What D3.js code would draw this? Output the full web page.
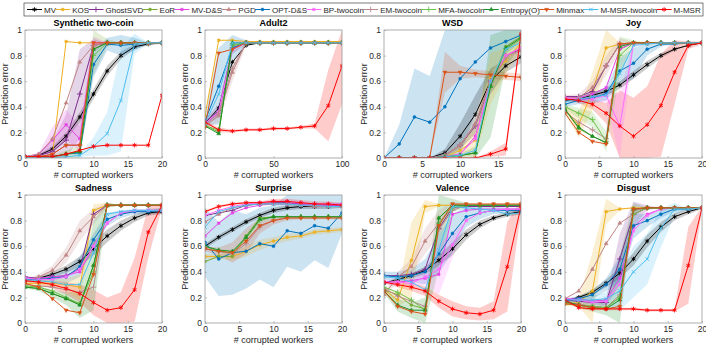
<!DOCTYPE html>
<html>
<head>
<meta charset="utf-8">
<script src="https://cdn.jsdelivr.net/npm/d3@7"></script>
<style>
  body { margin: 0; background: #fff; }
  text { font-family: "Liberation Sans", Arial, Helvetica, sans-serif; }
</style>
</head>
<body>
<div id="chart"></div>
<script>
// ---- series ----
var seriesNames = ["MV", "KOS", "GhostSVD", "EoR", "MV-D&S", "PGD", "OPT-D&S", "BP-twocoin",
                   "EM-twocoin", "MFA-twocoin", "Entropy(O)", "Minmax", "M-MSR-twocoin", "M-MSR"];
var seriesColors = ["#000000", "#EDB120", "#7E2F8E", "#77AC30", "#E645E6", "#C08484", "#0072BD", "#FF6CFF",
                    "#B9898D", "#6CC24A", "#1F8F2A", "#D95319", "#4DBEEE", "#FF0000"];
var seriesMarkers = ["star", "square", "plus", "dot", "square", "tri", "dot", "square",
                     "plus", "plus", "tri", "trid", "x", "star"];

// ---- x values ----
var xEven20 = [0, 2, 4, 6, 8, 10, 12, 14, 16, 18, 20];
var xAdult = [0, 10, 20, 30, 40, 50, 60, 70, 80, 90, 100];
var xWsd = [0, 2, 4, 6, 8, 10, 12, 14, 16, 18];

// ---- values, rows in series order ----
var synthetic = [
  [0.01, 0.02, 0.07, 0.17, 0.32, 0.50, 0.68, 0.80, 0.87, 0.89, 0.90],
  [0.01, 0.01, 0.02, 0.91, 0.90, 0.90, 0.90, 0.90, 0.90, 0.90, 0.90],
  [0.01, 0.02, 0.05, 0.14, 0.50, 0.88, 0.90, 0.90, 0.90, 0.90, 0.90],
  [0.005, 0.005, 0.01, 0.03, 0.05, 0.85, 0.90, 0.90, 0.90, 0.90, 0.90],
  [0.01, 0.03, 0.14, 0.26, 0.15, 0.90, 0.90, 0.90, 0.90, 0.90, 0.90],
  [0.01, 0.03, 0.15, 0.43, 0.75, 0.88, 0.90, 0.90, 0.90, 0.90, 0.90],
  [0.005, 0.005, 0.01, 0.03, 0.04, 0.73, 0.89, 0.88, 0.89, 0.90, 0.90],
  [0.01, 0.01, 0.03, 0.10, 0.10, 0.90, 0.90, 0.90, 0.90, 0.90, 0.90],
  [0.01, 0.01, 0.03, 0.10, 0.10, 0.88, 0.90, 0.90, 0.90, 0.90, 0.90],
  [0.005, 0.005, 0.01, 0.03, 0.05, 0.80, 0.90, 0.90, 0.90, 0.90, 0.90],
  [0.005, 0.005, 0.01, 0.03, 0.05, 0.85, 0.90, 0.90, 0.90, 0.90, 0.90],
  [0.01, 0.01, 0.03, 0.10, 0.10, 0.90, 0.90, 0.90, 0.90, 0.90, 0.90],
  [0.005, 0.005, 0.005, 0.01, 0.02, 0.09, 0.19, 0.45, 0.89, 0.90, 0.90],
  [0.01, 0.01, 0.01, 0.03, 0.06, 0.09, 0.10, 0.10, 0.10, 0.10, 0.49]
];
var adult2 = [
  [0.27, 0.39, 0.75, 0.88, 0.90, 0.90, 0.90, 0.90, 0.90, 0.90, 0.90],
  [0.33, 0.92, 0.92, 0.91, 0.91, 0.91, 0.91, 0.91, 0.91, 0.91, 0.91],
  [0.28, 0.37, 0.86, 0.90, 0.90, 0.90, 0.90, 0.90, 0.90, 0.90, 0.90],
  [0.26, 0.20, 0.88, 0.90, 0.90, 0.90, 0.90, 0.90, 0.90, 0.90, 0.90],
  [0.27, 0.35, 0.85, 0.90, 0.90, 0.90, 0.90, 0.90, 0.90, 0.90, 0.90],
  [0.25, 0.33, 0.67, 0.90, 0.90, 0.90, 0.90, 0.90, 0.90, 0.90, 0.90],
  [0.29, 0.56, 0.86, 0.90, 0.90, 0.90, 0.90, 0.90, 0.90, 0.90, 0.90],
  [0.27, 0.36, 0.85, 0.90, 0.90, 0.90, 0.90, 0.90, 0.90, 0.90, 0.90],
  [0.26, 0.35, 0.70, 0.90, 0.90, 0.90, 0.90, 0.90, 0.90, 0.90, 0.90],
  [0.25, 0.22, 0.88, 0.90, 0.90, 0.90, 0.90, 0.90, 0.90, 0.90, 0.90],
  [0.25, 0.19, 0.90, 0.90, 0.90, 0.90, 0.90, 0.90, 0.90, 0.90, 0.90],
  [0.24, 0.82, 0.85, 0.90, 0.90, 0.90, 0.90, 0.90, 0.90, 0.90, 0.90],
  [0.27, 0.50, 0.90, 0.90, 0.90, 0.90, 0.90, 0.90, 0.90, 0.90, 0.90],
  [0.28, 0.22, 0.21, 0.22, 0.22, 0.23, 0.23, 0.24, 0.25, 0.41, 0.72]
];
var wsd = [
  [0, 0, 0, 0, 0.04, 0.17, 0.34, 0.60, 0.72, 0.79],
  [0, 0, 0, 0, 0.01, 0.06, 0.14, 0.62, 0.76, 0.90],
  [0, 0, 0, 0, 0.02, 0.10, 0.25, 0.60, 0.80, 0.85],
  [0, 0, 0, 0, 0.01, 0.02, 0.04, 0.57, 0.87, 0.95],
  [0, 0, 0, 0, 0.01, 0.03, 0.17, 0.58, 0.80, 0.86],
  [0, 0, 0, 0, 0.02, 0.10, 0.27, 0.60, 0.80, 0.84],
  [0, 0.11, 0.32, 0.28, 0.40, 0.62, 0.75, 0.86, 0.91, 0.96],
  [0, 0, 0, 0, 0.01, 0.03, 0.15, 0.60, 0.80, 0.86],
  [0, 0, 0, 0, 0.02, 0.10, 0.26, 0.60, 0.78, 0.84],
  [0, 0, 0, 0, 0.01, 0.02, 0.04, 0.56, 0.85, 0.93],
  [0, 0, 0, 0, 0.01, 0.02, 0.04, 0.56, 0.86, 0.94],
  [0, 0, 0, 0, 0.67, 0.67, 0.66, 0.65, 0.64, 0.63],
  [0, 0, 0, 0, 0.01, 0.02, 0.06, 0.60, 0.85, 0.90],
  [0, 0, 0, 0, 0, 0, 0, 0.03, 0.07, 0.97]
];
var joy = [
  [0.45, 0.46, 0.49, 0.52, 0.57, 0.65, 0.73, 0.80, 0.85, 0.88, 0.90],
  [0.38, 0.26, 0.52, 0.86, 0.89, 0.90, 0.90, 0.90, 0.90, 0.90, 0.90],
  [0.48, 0.48, 0.52, 0.72, 0.89, 0.90, 0.90, 0.90, 0.90, 0.90, 0.90],
  [0.38, 0.23, 0.17, 0.12, 0.85, 0.90, 0.90, 0.90, 0.90, 0.90, 0.90],
  [0.47, 0.47, 0.50, 0.55, 0.85, 0.90, 0.90, 0.90, 0.90, 0.90, 0.90],
  [0.47, 0.47, 0.55, 0.72, 0.89, 0.90, 0.90, 0.90, 0.90, 0.90, 0.90],
  [0.42, 0.45, 0.47, 0.50, 0.68, 0.74, 0.85, 0.89, 0.89, 0.90, 0.90],
  [0.47, 0.46, 0.46, 0.49, 0.25, 0.89, 0.90, 0.90, 0.90, 0.90, 0.90],
  [0.36, 0.28, 0.22, 0.15, 0.88, 0.90, 0.90, 0.90, 0.90, 0.90, 0.90],
  [0.40, 0.35, 0.30, 0.13, 0.80, 0.90, 0.90, 0.90, 0.90, 0.90, 0.90],
  [0.38, 0.24, 0.17, 0.12, 0.87, 0.90, 0.90, 0.90, 0.90, 0.90, 0.90],
  [0.35, 0.20, 0.13, 0.11, 0.89, 0.90, 0.90, 0.90, 0.90, 0.90, 0.90],
  [0.44, 0.46, 0.48, 0.49, 0.66, 0.88, 0.89, 0.90, 0.90, 0.90, 0.90],
  [0.46, 0.45, 0.42, 0.35, 0.25, 0.17, 0.26, 0.41, 0.67, 0.88, 0.90]
];
var sadness = [
  [0.34, 0.35, 0.38, 0.42, 0.48, 0.58, 0.68, 0.76, 0.82, 0.86, 0.87],
  [0.31, 0.31, 0.31, 0.30, 0.28, 0.88, 0.92, 0.92, 0.92, 0.92, 0.92],
  [0.36, 0.35, 0.36, 0.37, 0.42, 0.85, 0.92, 0.92, 0.92, 0.92, 0.92],
  [0.28, 0.27, 0.23, 0.19, 0.15, 0.45, 0.92, 0.92, 0.92, 0.92, 0.92],
  [0.35, 0.35, 0.36, 0.37, 0.40, 0.60, 0.78, 0.86, 0.87, 0.88, 0.88],
  [0.33, 0.36, 0.41, 0.53, 0.72, 0.83, 0.92, 0.92, 0.92, 0.92, 0.92],
  [0.34, 0.34, 0.35, 0.36, 0.44, 0.65, 0.81, 0.85, 0.87, 0.87, 0.88],
  [0.35, 0.34, 0.34, 0.36, 0.42, 0.60, 0.78, 0.86, 0.88, 0.88, 0.88],
  [0.30, 0.29, 0.28, 0.26, 0.24, 0.28, 0.92, 0.92, 0.92, 0.92, 0.92],
  [0.29, 0.28, 0.25, 0.20, 0.15, 0.40, 0.92, 0.92, 0.92, 0.92, 0.92],
  [0.28, 0.27, 0.23, 0.19, 0.14, 0.45, 0.92, 0.92, 0.92, 0.92, 0.92],
  [0.31, 0.28, 0.19, 0.10, 0.08, 0.38, 0.92, 0.92, 0.92, 0.92, 0.92],
  [0.34, 0.33, 0.32, 0.30, 0.30, 0.55, 0.85, 0.87, 0.88, 0.88, 0.88],
  [0.33, 0.32, 0.30, 0.27, 0.23, 0.16, 0.10, 0.12, 0.26, 0.71, 0.92]
];
var surprise = [
  [0.60, 0.67, 0.73, 0.79, 0.84, 0.88, 0.90, 0.91, 0.91, 0.91, 0.92],
  [0.52, 0.52, 0.52, 0.56, 0.61, 0.64, 0.67, 0.68, 0.71, 0.72, 0.73],
  [0.84, 0.86, 0.88, 0.92, 0.93, 0.94, 0.94, 0.93, 0.93, 0.92, 0.92],
  [0.48, 0.52, 0.52, 0.68, 0.82, 0.83, 0.83, 0.83, 0.83, 0.83, 0.83],
  [0.68, 0.78, 0.86, 0.90, 0.92, 0.93, 0.93, 0.93, 0.92, 0.92, 0.92],
  [0.79, 0.85, 0.90, 0.92, 0.93, 0.93, 0.93, 0.92, 0.91, 0.91, 0.91],
  [0.63, 0.50, 0.55, 0.56, 0.62, 0.60, 0.72, 0.70, 0.76, 0.74, 0.86],
  [0.84, 0.88, 0.91, 0.93, 0.94, 0.95, 0.95, 0.94, 0.93, 0.93, 0.93],
  [0.58, 0.56, 0.54, 0.62, 0.75, 0.80, 0.83, 0.83, 0.83, 0.83, 0.83],
  [0.60, 0.56, 0.55, 0.66, 0.80, 0.83, 0.83, 0.83, 0.83, 0.83, 0.83],
  [0.60, 0.57, 0.56, 0.67, 0.81, 0.83, 0.83, 0.83, 0.83, 0.83, 0.83],
  [0.58, 0.56, 0.55, 0.64, 0.76, 0.80, 0.82, 0.82, 0.82, 0.82, 0.82],
  [0.75, 0.87, 0.90, 0.92, 0.93, 0.93, 0.93, 0.92, 0.92, 0.91, 0.91],
  [0.87, 0.91, 0.93, 0.94, 0.94, 0.95, 0.95, 0.94, 0.93, 0.93, 0.92]
];
var valence = [
  [0.31, 0.34, 0.37, 0.41, 0.49, 0.58, 0.69, 0.77, 0.82, 0.85, 0.87],
  [0.26, 0.18, 0.49, 0.91, 0.92, 0.92, 0.92, 0.92, 0.92, 0.92, 0.92],
  [0.37, 0.37, 0.38, 0.42, 0.74, 0.90, 0.91, 0.91, 0.91, 0.91, 0.91],
  [0.26, 0.22, 0.14, 0.11, 0.82, 0.92, 0.92, 0.92, 0.92, 0.92, 0.92],
  [0.32, 0.32, 0.33, 0.35, 0.38, 0.85, 0.88, 0.89, 0.89, 0.89, 0.89],
  [0.22, 0.36, 0.44, 0.64, 0.78, 0.92, 0.92, 0.92, 0.92, 0.92, 0.92],
  [0.37, 0.36, 0.37, 0.40, 0.54, 0.70, 0.83, 0.86, 0.88, 0.88, 0.88],
  [0.32, 0.32, 0.31, 0.36, 0.42, 0.61, 0.80, 0.86, 0.88, 0.89, 0.89],
  [0.27, 0.21, 0.17, 0.13, 0.73, 0.88, 0.92, 0.92, 0.92, 0.92, 0.92],
  [0.28, 0.24, 0.18, 0.10, 0.78, 0.90, 0.92, 0.92, 0.92, 0.92, 0.92],
  [0.25, 0.14, 0.10, 0.10, 0.82, 0.92, 0.92, 0.92, 0.92, 0.92, 0.92],
  [0.25, 0.13, 0.09, 0.07, 0.76, 0.93, 0.93, 0.93, 0.93, 0.93, 0.93],
  [0.36, 0.35, 0.32, 0.26, 0.57, 0.91, 0.90, 0.89, 0.88, 0.85, 0.86],
  [0.32, 0.30, 0.28, 0.25, 0.17, 0.11, 0.08, 0.07, 0.10, 0.44, 0.91]
];
var disgust = [
  [0.17, 0.20, 0.24, 0.31, 0.39, 0.50, 0.64, 0.75, 0.83, 0.87, 0.90],
  [0.15, 0.16, 0.25, 0.87, 0.89, 0.90, 0.90, 0.90, 0.90, 0.90, 0.90],
  [0.18, 0.17, 0.16, 0.16, 0.50, 0.85, 0.90, 0.90, 0.90, 0.90, 0.90],
  [0.15, 0.14, 0.13, 0.12, 0.20, 0.88, 0.90, 0.90, 0.90, 0.90, 0.90],
  [0.19, 0.19, 0.17, 0.18, 0.35, 0.75, 0.85, 0.89, 0.90, 0.90, 0.90],
  [0.19, 0.25, 0.42, 0.62, 0.78, 0.85, 0.90, 0.90, 0.90, 0.90, 0.90],
  [0.18, 0.19, 0.22, 0.30, 0.42, 0.76, 0.80, 0.85, 0.89, 0.89, 0.90],
  [0.19, 0.18, 0.16, 0.17, 0.30, 0.72, 0.84, 0.89, 0.90, 0.90, 0.90],
  [0.16, 0.15, 0.13, 0.12, 0.22, 0.88, 0.90, 0.90, 0.90, 0.90, 0.90],
  [0.16, 0.14, 0.13, 0.12, 0.20, 0.85, 0.90, 0.90, 0.90, 0.90, 0.90],
  [0.17, 0.14, 0.12, 0.11, 0.18, 0.89, 0.90, 0.90, 0.90, 0.90, 0.90],
  [0.15, 0.14, 0.12, 0.11, 0.13, 0.89, 0.90, 0.90, 0.90, 0.90, 0.90],
  [0.18, 0.18, 0.18, 0.19, 0.25, 0.40, 0.50, 0.74, 0.89, 0.89, 0.90],
  [0.18, 0.12, 0.11, 0.11, 0.11, 0.11, 0.10, 0.10, 0.10, 0.45, 0.90]
];

// ---- spread (std) of the shaded bands: [series index, values] ----
var syntheticSd = [
  [0, [0, 0.01, 0.02, 0.03, 0.04, 0.04, 0.04, 0.03, 0.02, 0.01, 0.01]],
  [2, [0, 0.01, 0.08, 0.20, 0.35, 0.05, 0, 0, 0, 0, 0]],
  [4, [0, 0.01, 0.10, 0.12, 0.10, 0.05, 0, 0, 0, 0, 0]],
  [3, [0, 0, 0.01, 0.03, 0.05, 0.20, 0.03, 0, 0, 0, 0]],
  [12, [0, 0, 0, 0, 0.01, 0.07, 0.17, 0.40, 0.08, 0, 0]],
  [6, [0, 0, 0, 0, 0.02, 0.10, 0.05, 0.08, 0.05, 0, 0]]
];
var adult2Sd = [
  [6, [0.03, 0.30, 0.10, 0.02, 0, 0, 0, 0, 0, 0, 0]],
  [5, [0.02, 0.05, 0.07, 0.02, 0, 0, 0, 0, 0, 0, 0]],
  [2, [0.02, 0.05, 0.05, 0.01, 0, 0, 0, 0, 0, 0, 0]],
  [13, [0.01, 0.02, 0.01, 0.01, 0.01, 0.01, 0.01, 0.01, 0.02, 0.28, 0.30]]
];
var wsdSd = [
  [6, [0, 0.15, 0.38, 0.36, 0.60, 0.60, 0.40, 0.20, 0.10, 0.05]],
  [11, [0, 0, 0, 0, 0.16, 0.05, 0.03, 0.03, 0.03, 0.03]],
  [10, [0, 0, 0, 0, 0.01, 0.02, 0.05, 0.40, 0.15, 0.06]],
  [0, [0, 0, 0, 0, 0.03, 0.10, 0.15, 0.10, 0.05, 0.05]],
  [1, [0, 0, 0, 0, 0.02, 0.05, 0.12, 0.20, 0.10, 0.05]],
  [13, [0, 0, 0, 0, 0, 0, 0, 0.02, 0.05, 0.03]]
];
var joySd = [
  [13, [0.01, 0.02, 0.04, 0.08, 0.28, 0.30, 0.30, 0.40, 0.25, 0.03, 0.01]],
  [1, [0.03, 0.10, 0.15, 0.15, 0.01, 0, 0, 0, 0, 0, 0]],
  [7, [0.02, 0.02, 0.03, 0.05, 0.25, 0.02, 0, 0, 0, 0, 0]],
  [6, [0.02, 0.03, 0.04, 0.05, 0.10, 0.12, 0.05, 0.02, 0, 0, 0]],
  [0, [0.01, 0.01, 0.02, 0.03, 0.03, 0.03, 0.03, 0.02, 0.01, 0, 0]],
  [9, [0.02, 0.04, 0.06, 0.08, 0.15, 0.02, 0, 0, 0, 0, 0]],
  [5, [0.02, 0.03, 0.05, 0.08, 0.05, 0, 0, 0, 0, 0, 0]]
];
var sadnessSd = [
  [13, [0.01, 0.02, 0.03, 0.05, 0.07, 0.10, 0.10, 0.12, 0.25, 0.20, 0.02]],
  [10, [0.01, 0.02, 0.03, 0.05, 0.10, 0.35, 0.02, 0, 0, 0, 0]],
  [0, [0.01, 0.01, 0.02, 0.03, 0.04, 0.05, 0.05, 0.04, 0.03, 0.02, 0.02]],
  [6, [0.01, 0.02, 0.03, 0.05, 0.08, 0.05, 0.05, 0.03, 0.02, 0.02, 0.02]],
  [1, [0.01, 0.02, 0.03, 0.05, 0.10, 0.05, 0.02, 0, 0, 0, 0]],
  [5, [0.01, 0.02, 0.04, 0.06, 0.08, 0.06, 0.02, 0, 0, 0, 0]]
];
var surpriseSd = [
  [6, [0.27, 0.29, 0.33, 0.29, 0.28, 0.32, 0.28, 0.30, 0.27, 0.31, 0.16]],
  [1, [0.02, 0.02, 0.03, 0.04, 0.04, 0.03, 0.03, 0.02, 0.02, 0.02, 0.02]],
  [11, [0.02, 0.03, 0.08, 0.10, 0.06, 0.03, 0.02, 0.01, 0.01, 0.01, 0.01]],
  [13, [0.01, 0.01, 0.01, 0.01, 0.01, 0.02, 0.02, 0.02, 0.02, 0.02, 0.02]],
  [0, [0.02, 0.02, 0.02, 0.02, 0.02, 0.02, 0.02, 0.02, 0.02, 0.02, 0.02]]
];
var valenceSd = [
  [13, [0.01, 0.02, 0.03, 0.04, 0.05, 0.06, 0.05, 0.05, 0.07, 0.35, 0.05]],
  [1, [0.02, 0.05, 0.30, 0.05, 0.01, 0, 0, 0, 0, 0, 0]],
  [10, [0.02, 0.05, 0.06, 0.10, 0.40, 0.05, 0.02, 0, 0, 0, 0]],
  [6, [0.03, 0.04, 0.05, 0.10, 0.15, 0.15, 0.08, 0.05, 0.03, 0.02, 0.02]],
  [0, [0.01, 0.01, 0.02, 0.03, 0.04, 0.05, 0.04, 0.03, 0.02, 0.02, 0.02]],
  [5, [0.02, 0.04, 0.06, 0.10, 0.10, 0.03, 0, 0, 0, 0, 0]],
  [7, [0.02, 0.02, 0.03, 0.06, 0.20, 0.10, 0, 0, 0, 0, 0]]
];
var disgustSd = [
  [13, [0.01, 0.01, 0.01, 0.01, 0.01, 0.01, 0.01, 0.01, 0.01, 0.30, 0.01]],
  [1, [0.02, 0.03, 0.30, 0.10, 0.01, 0, 0, 0, 0, 0, 0]],
  [10, [0.01, 0.02, 0.03, 0.05, 0.35, 0.05, 0, 0, 0, 0, 0]],
  [12, [0.01, 0.02, 0.03, 0.05, 0.15, 0.20, 0.20, 0.15, 0.05, 0, 0]],
  [0, [0.01, 0.01, 0.02, 0.03, 0.04, 0.05, 0.05, 0.04, 0.03, 0.02, 0.01]],
  [2, [0.01, 0.01, 0.02, 0.03, 0.20, 0.10, 0.02, 0, 0, 0, 0]],
  [6, [0.01, 0.02, 0.03, 0.05, 0.10, 0.10, 0.05, 0.03, 0.02, 0.01, 0]]
];

var panels = [
  { title: "Synthetic two-coin", x: xEven20, xMax: 20, ticks: [0, 5, 10, 15, 20], rows: synthetic, sd: syntheticSd },
  { title: "Adult2", x: xAdult, xMax: 100, ticks: [0, 50, 100], rows: adult2, sd: adult2Sd },
  { title: "WSD", x: xWsd, xMax: 18, ticks: [0, 5, 10, 15], rows: wsd, sd: wsdSd },
  { title: "Joy", x: xEven20, xMax: 20, ticks: [0, 5, 10, 15, 20], rows: joy, sd: joySd },
  { title: "Sadness", x: xEven20, xMax: 20, ticks: [0, 5, 10, 15, 20], rows: sadness, sd: sadnessSd },
  { title: "Surprise", x: xEven20, xMax: 20, ticks: [0, 5, 10, 15, 20], rows: surprise, sd: surpriseSd },
  { title: "Valence", x: xEven20, xMax: 20, ticks: [0, 5, 10, 15, 20], rows: valence, sd: valenceSd },
  { title: "Disgust", x: xEven20, xMax: 20, ticks: [0, 5, 10, 15, 20], rows: disgust, sd: disgustSd }
];

// ---- layout ----
var svgWidth = 706, svgHeight = 348;
var panelLefts = [25, 205, 384, 565];
var panelTops = [30, 195];
var panelW = 137, panelH = 128;
var textColor = "#262626";
var boxColor = "#9a9a9a";

var svg = d3.select("#chart").append("svg")
    .attr("width", svgWidth)
    .attr("height", svgHeight);

function markerPath(type) {
  var map = {
    star: [d3.symbolAsterisk, 14], plus: [d3.symbolPlus, 12], x: [d3.symbolX, 10],
    square: [d3.symbolSquare, 6], dot: [d3.symbolCircle, 7], tri: [d3.symbolTriangle, 7], trid: [d3.symbolTriangle, 7]
  };
  return d3.symbol().type(map[type][0]).size(map[type][1])();
}
function isStroked(type) { return type === "star" || type === "plus" || type === "x"; }

function drawMarker(g, type, color, cx, cy) {
  var p = g.append("path")
      .attr("d", markerPath(type))
      .attr("transform", "translate(" + cx + "," + cy + ")" + (type === "trid" ? " rotate(180)" : ""));
  if (isStroked(type)) p.attr("fill", "none").attr("stroke", color).attr("stroke-width", 0.9);
  else p.attr("fill", color).attr("stroke", color).attr("stroke-width", 0.5);
}

panels.forEach(function(p, i) {
  var left = panelLefts[i % 4], top = panelTops[Math.floor(i / 4)];
  var g = svg.append("g").attr("transform", "translate(" + left + "," + top + ")");

  var x = d3.scaleLinear().domain([0, p.xMax]).range([0, panelW]);
  var y = d3.scaleLinear().domain([0, 1]).range([panelH, 0]);

  var clipId = "clip" + i;
  g.append("clipPath").attr("id", clipId)
    .append("rect").attr("width", panelW).attr("height", panelH);

  var plot = g.append("g").attr("clip-path", "url(#" + clipId + ")");

  // shaded bands
  var area = d3.area()
      .x(function(d) { return x(d.x); })
      .y0(function(d) { return y(Math.max(0, d.v - d.s)); })
      .y1(function(d) { return y(Math.min(1, d.v + d.s)); });
  p.sd.forEach(function(b) {
    var vals = p.rows[b[0]];
    var pts = p.x.map(function(xv, k) { return { x: xv, v: vals[k], s: b[1][k] }; });
    plot.append("path")
      .attr("d", area(pts))
      .attr("fill", seriesColors[b[0]])
      .attr("fill-opacity", 0.2)
      .attr("stroke", "none");
  });

  // lines + markers
  var line = d3.line()
      .x(function(d) { return x(d.x); })
      .y(function(d) { return y(d.v); });
  p.rows.forEach(function(vals, s) {
    var pts = p.x.map(function(xv, k) { return { x: xv, v: vals[k] }; });
    plot.append("path")
      .attr("d", line(pts))
      .attr("fill", "none")
      .attr("stroke", seriesColors[s])
      .attr("stroke-width", 1);
    var mg = plot.append("g");
    pts.forEach(function(d) { drawMarker(mg, seriesMarkers[s], seriesColors[s], x(d.x), y(d.v)); });
  });

  // axes
  var xAxis = d3.axisBottom(x).tickValues(p.ticks).tickSizeInner(-2).tickSizeOuter(0).tickPadding(3);
  var yAxis = d3.axisLeft(y).tickValues([0, 0.2, 0.4, 0.6, 0.8, 1]).tickFormat(d3.format("~g"))
      .tickSizeInner(-2).tickSizeOuter(0).tickPadding(3);
  var gx = g.append("g").attr("transform", "translate(0," + panelH + ")").call(xAxis);
  var gy = g.append("g").call(yAxis);
  [gx, gy].forEach(function(a) {
    a.select(".domain").remove();
    a.selectAll("line").attr("stroke", boxColor).attr("stroke-width", 0.6);
    a.selectAll("text").attr("fill", textColor).style("font-size", "8.5px")
      .style("font-family", '"Liberation Sans", Arial, sans-serif');
  });

  g.append("rect")
    .attr("width", panelW).attr("height", panelH)
    .attr("fill", "none").attr("stroke", boxColor).attr("stroke-width", 0.8);

  g.append("text")
    .attr("x", panelW / 2).attr("y", -4)
    .attr("text-anchor", "middle")
    .style("font-size", "9px").style("font-weight", "bold")
    .text(p.title);

  g.append("text")
    .attr("x", panelW / 2).attr("y", panelH + 20)
    .attr("text-anchor", "middle")
    .attr("fill", textColor)
    .style("font-size", "9px")
    .text("# corrupted workers");

  g.append("text")
    .attr("transform", "translate(-17," + (panelH / 2) + ") rotate(-90)")
    .attr("text-anchor", "middle")
    .attr("fill", textColor)
    .style("font-size", "9px")
    .text("Prediction error");
});

// ---- legend ----
var legend = svg.append("g");
var legLeft = 24, legRight = 703, legTop = 3, legH = 13;
legend.append("rect")
  .attr("x", legLeft).attr("y", legTop).attr("width", legRight - legLeft).attr("height", legH)
  .attr("fill", "#fff").attr("stroke", textColor).attr("stroke-width", 0.6);

var items = seriesNames.map(function(name, s) {
  var t = legend.append("text")
    .attr("y", legTop + legH / 2 + 3)
    .attr("fill", textColor)
    .style("font-size", "8px")
    .text(name);
  return { s: s, t: t, w: t.node().getComputedTextLength() };
});
var segW = 15, segGap = 2;
var used = d3.sum(items, function(d) { return segW + segGap + d.w; });
var gap = (legRight - legLeft - 6 - used) / items.length;
var cx = legLeft + 3;
items.forEach(function(d) {
  var cy = legTop + legH / 2;
  legend.append("line")
    .attr("x1", cx).attr("x2", cx + segW).attr("y1", cy).attr("y2", cy)
    .attr("stroke", seriesColors[d.s]).attr("stroke-width", 1);
  drawMarker(legend, seriesMarkers[d.s], seriesColors[d.s], cx + segW / 2, cy);
  d.t.attr("x", cx + segW + segGap);
  cx += segW + segGap + d.w + gap;
});
</script>
</body>
</html>
